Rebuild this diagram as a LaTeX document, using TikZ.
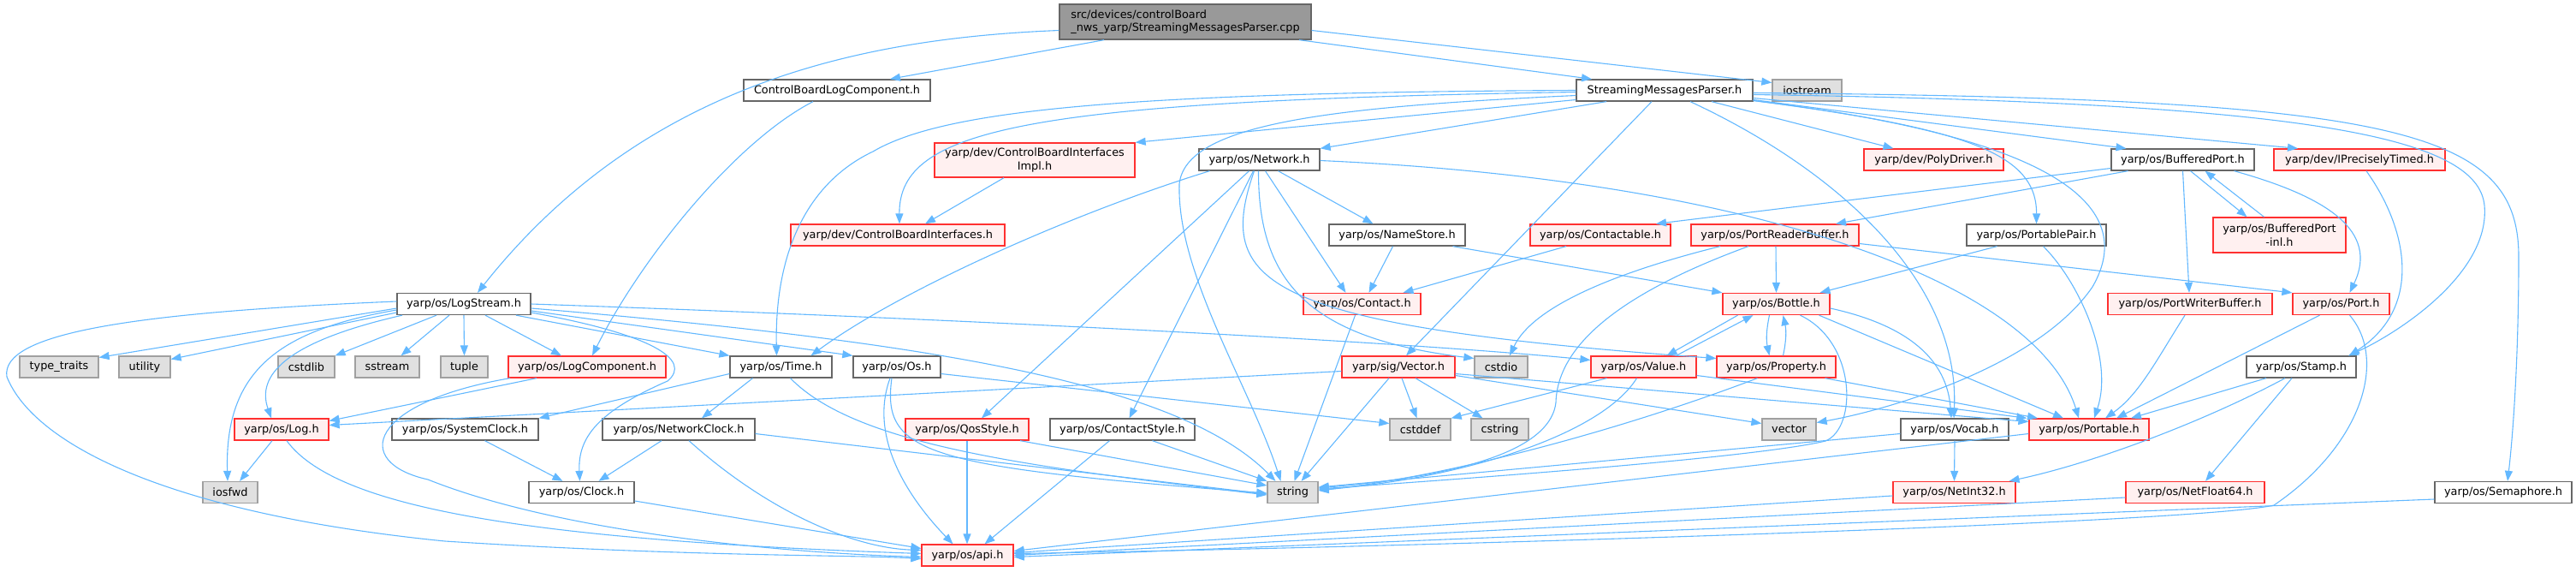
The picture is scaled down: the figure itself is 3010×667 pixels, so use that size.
\documentclass[tikz,border=0pt]{standalone}
\usepackage{fontspec}
\newfontfamily\dejavu{DejaVu Sans}
\usetikzlibrary{arrows.meta}
\definecolor{edgeblue}{HTML}{63B8FF}
\definecolor{docgray}{HTML}{666666}
\definecolor{truncred}{HTML}{FF3030}
\definecolor{truncfill}{HTML}{FFF0F0}
\definecolor{sysgray}{HTML}{A0A0A0}
\definecolor{sysfill}{HTML}{E0E0E0}
\definecolor{srcfill}{HTML}{999999}

\begin{document}
\begin{tikzpicture}[x=1pt,y=-1pt,
    every node/.style={font=\dejavu\fontsize{12.85}{15.4}\selectfont,inner sep=0pt,minimum height=25pt},
    srcfile/.style={draw=docgray,fill=srcfill,line width=1.3pt},
    hdr/.style={draw=docgray,fill=white,line width=1.3pt},
    trunc/.style={draw=truncred,fill=truncfill,line width=1.3pt},
    sys/.style={draw=sysgray,fill=sysfill,line width=1.3pt},
    inc/.style={draw=edgeblue,line width=1.1pt,-{Triangle[length=12pt,width=9pt]}},
  ]
  \useasboundingbox (0,0) rectangle (3010,667);

  % files
  \node[srcfile,minimum width=294pt,minimum height=41pt,align=left] (main) at (1385,25.5)
    {src/devices/controlBoard\\\_nws\_yarp/StreamingMessagesParser.cpp};
  \node[hdr,minimum width=218pt] (cblc) at (978,105.5) {ControlBoardLogComponent.h};
  \node[hdr,minimum width=206pt] (smph) at (1945,105.5) {StreamingMessagesParser.h};
  \node[sys,minimum width=81pt] (iostream) at (2111.5,105.5) {iostream};

  \node[trunc,minimum width=234pt,minimum height=40pt,align=center] (cbii) at (1209,187)
    {yarp/dev/ControlBoardInterfaces\\Impl.h};
  \node[hdr,minimum width=141pt] (network) at (1471.5,186.5) {yarp/os/Network.h};
  \node[trunc,minimum width=163pt] (polydriver) at (2259.5,186.5) {yarp/dev/PolyDriver.h};
  \node[hdr,minimum width=167pt] (bufport) at (2550.5,186.5) {yarp/os/BufferedPort.h};
  \node[trunc,minimum width=200pt] (iptimed) at (2757,186.5) {yarp/dev/IPreciselyTimed.h};

  \node[trunc,minimum width=250pt] (cbi) at (1049,274.5) {yarp/dev/ControlBoardInterfaces.h};
  \node[hdr,minimum width=159pt] (namestore) at (1632.5,274.5) {yarp/os/NameStore.h};
  \node[trunc,minimum width=164pt] (contactable) at (1870,274.5) {yarp/os/Contactable.h};
  \node[trunc,minimum width=196pt] (prbuf) at (2074,274.5) {yarp/os/PortReaderBuffer.h};
  \node[hdr,minimum width=163pt] (ppair) at (2379.5,274.5) {yarp/os/PortablePair.h};
  \node[trunc,minimum width=155pt,minimum height=41pt,align=center] (bpinl) at (2663.5,274.5)
    {yarp/os/BufferedPort\\-inl.h};

  \node[hdr,minimum width=156pt] (logstream) at (542,355) {yarp/os/LogStream.h};
  \node[trunc,minimum width=137pt] (contact) at (1591.5,355) {yarp/os/Contact.h};
  \node[trunc,minimum width=125pt] (bottle) at (2075.5,355) {yarp/os/Bottle.h};
  \node[trunc,minimum width=192pt] (pwbuf) at (2559,355) {yarp/os/PortWriterBuffer.h};
  \node[trunc,minimum width=113pt] (port) at (2735.5,355) {yarp/os/Port.h};

  \node[sys,minimum width=92pt] (typetraits) at (69,428.5) {type\_traits};
  \node[sys,minimum width=60pt] (utility) at (169,428.5) {utility};
  \node[sys,minimum width=66pt] (cstdlib) at (358,428.5) {cstdlib};
  \node[sys,minimum width=75pt] (sstream) at (452.5,428.5) {sstream};
  \node[sys,minimum width=55pt] (tuple) at (542.5,428.5) {tuple};
  \node[trunc,minimum width=184pt] (logcomp) at (686,428.5) {yarp/os/LogComponent.h};
  \node[hdr,minimum width=119pt] (time) at (912.5,428.5) {yarp/os/Time.h};
  \node[hdr,minimum width=102pt] (os) at (1048,428.5) {yarp/os/Os.h};
  \node[trunc,minimum width=132pt] (sigvector) at (1634,428.5) {yarp/sig/Vector.h};
  \node[sys,minimum width=62pt] (cstdio) at (1754,428.5) {cstdio};
  \node[trunc,minimum width=123pt] (value) at (1920.5,428.5) {yarp/os/Value.h};
  \node[trunc,minimum width=139pt] (property) at (2075.5,428.5) {yarp/os/Property.h};
  \node[hdr,minimum width=128pt] (stamp) at (2689,428.5) {yarp/os/Stamp.h};

  \node[trunc,minimum width=110pt] (log) at (329,501.5) {yarp/os/Log.h};
  \node[hdr,minimum width=171pt] (sysclock) at (543.5,501.5) {yarp/os/SystemClock.h};
  \node[hdr,minimum width=178pt] (netclock) at (793,501.5) {yarp/os/NetworkClock.h};
  \node[trunc,minimum width=144pt] (qos) at (1130,501.5) {yarp/os/QosStyle.h};
  \node[hdr,minimum width=169pt] (cstyle) at (1311.5,501.5) {yarp/os/ContactStyle.h};
  \node[sys,minimum width=71pt] (cstddef) at (1659.5,501.5) {cstddef};
  \node[sys,minimum width=67pt] (cstring) at (1752.5,501.5) {cstring};
  \node[sys,minimum width=63pt] (stdvector) at (2090.5,501.5) {vector};
  \node[hdr,minimum width=126pt] (vocab) at (2284,501.5) {yarp/os/Vocab.h};
  \node[trunc,minimum width=140pt] (portable) at (2441,501.5) {yarp/os/Portable.h};

  \node[sys,minimum width=64pt] (iosfwd) at (269,575) {iosfwd};
  \node[hdr,minimum width=123pt] (clock) at (679.5,575) {yarp/os/Clock.h};
  \node[sys,minimum width=59pt] (string) at (1510.5,575) {string};
  \node[trunc,minimum width=143pt] (netint) at (2283.5,575) {yarp/os/NetInt32.h};
  \node[trunc,minimum width=162pt] (netfloat) at (2565,575) {yarp/os/NetFloat64.h};
  \node[hdr,minimum width=160pt] (semaphore) at (2925,575) {yarp/os/Semaphore.h};

  \node[trunc,minimum width=107pt] (api) at (1130.5,648.5) {yarp/os/api.h};

  % includes of the source file
  \draw[inc] ([xshift=-95pt]main.south) -- ([xshift=62pt]cblc.north);
  \draw[inc] ([yshift=-10pt]main.west) .. controls (1000,45) and (750,100) .. ([xshift=16pt]logstream.north);
  \draw[inc] ([xshift=133pt]main.south) -- ([xshift=-85pt]smph.north);
  \draw[inc] ([yshift=-10pt]main.east) -- ([yshift=9pt]iostream.west);
  \draw[inc] ([xshift=-28pt]cblc.south) .. controls (860,165) and (750,300) .. ([xshift=6pt]logcomp.north);

  % StreamingMessagesParser.h
  \draw[inc] ([yshift=-11pt]smph.west) -- (cbii.north east);
  \draw[inc] ([yshift=-2pt]smph.west) .. controls (1200,118) and (1050,150) .. ([xshift=2pt]cbi.north);
  \draw[inc] (smph.west) .. controls (1300,108) and (1100,130) .. (1020,177)
    .. controls (940,215) and (905,300) .. ([xshift=-5pt]time.north);
  \draw[inc] ([yshift=-6pt]smph.west) .. controls (1550,125) and (1385,145) .. (1378,215)
    .. controls (1375,320) and (1460,450) .. ([xshift=-14pt]string.north);
  \draw[inc] ([xshift=-68pt]smph.south) -- (network.north east);
  \draw[inc] ([xshift=-15pt]smph.south) -- ([xshift=9pt]sigvector.north);
  \draw[inc] ([xshift=55pt]smph.south) -- ([xshift=-47pt]polydriver.north);
  \draw[inc] ([xshift=30pt]smph.south) .. controls (2150,200) and (2290,330) .. ([xshift=-1pt]vocab.north);
  \draw[inc] ([yshift=-11pt]smph.east) -- ([xshift=-66pt]bufport.north);
  \draw[inc] ([yshift=-9pt]smph.east) -- ([xshift=-72pt]iptimed.north);
  \draw[inc] ([yshift=-12pt]smph.east) .. controls (2300,150) and (2380,180) .. (ppair.north);
  \draw[inc] ([yshift=-12pt]smph.east) .. controls (2400,160) and (2500,240) .. (2445,335)
    .. controls (2380,430) and (2200,480) .. ([yshift=8pt]stdvector.east);
  \draw[inc] ([yshift=-5pt]smph.east) .. controls (2700,120) and (2895,160) .. (2903,240)
    .. controls (2910,320) and (2800,390) .. ([xshift=55pt]stamp.north);
  \draw[inc] ([yshift=-3pt]smph.east) .. controls (2800,115) and (2943,150) .. (2943,300)
    .. controls (2943,430) and (2935,520) .. ([xshift=5pt]semaphore.north);

  % Network.h
  \draw[inc] ([xshift=-58pt]network.south) .. controls (1250,250) and (1050,340) .. ([xshift=35pt]time.north);
  \draw[inc] ([xshift=-12pt]network.south) -- ([xshift=17pt]qos.north);
  \draw[inc] ([xshift=-7pt]network.south) -- ([xshift=8pt]cstyle.north);
  \draw[inc] ([xshift=-1pt]network.south) .. controls (1470,330) and (1530,395) .. ([yshift=10pt]cstdio.west);
  \draw[inc] ([xshift=-6pt]network.south) .. controls (1420,330) and (1470,380) .. ([yshift=10pt]property.west);
  \draw[inc] ([xshift=22pt]network.south) -- ([xshift=-28pt]namestore.north);
  \draw[inc] ([xshift=7pt]network.south) -- ([xshift=-19pt]contact.north);
  \draw[inc] ([yshift=-1pt]network.east) .. controls (2050,210) and (2380,330) .. ([xshift=-12pt]portable.north);

  % second row
  \draw[inc] ([xshift=-36pt]cbii.south) -- ([xshift=32pt]cbi.north);
  \draw[inc] ([xshift=-5pt]namestore.south) -- ([xshift=8pt]contact.north);
  \draw[inc] ([xshift=65pt]namestore.south) -- (bottle.north west);
  \draw[inc] ([xshift=-40pt]contactable.south) -- ([xshift=48pt]contact.north);
  \draw[inc] ([yshift=-10pt]bufport.west) -- ([xshift=65pt]contactable.north);
  \draw[inc] ([xshift=-64pt]bufport.south) -- ([xshift=71pt]prbuf.north);
  \draw[inc] ([xshift=9pt]bufport.south) -- ([xshift=-38pt]bpinl.north);
  \draw[inc] ([xshift=-18pt]bpinl.north) -- ([xshift=26pt]bufport.south);
  \draw[inc] (bufport.south) -- ([xshift=-1pt]pwbuf.north);
  \draw[inc] ([xshift=60pt]bufport.south) .. controls (2720,230) and (2780,270) .. ([xshift=10pt]port.north);
  \draw[inc] ([xshift=8pt]iptimed.south) .. controls (2815,270) and (2830,360) .. ([xshift=56pt]stamp.north);

  % PortReaderBuffer.h, PortablePair.h
  \draw[inc] ([xshift=1pt]prbuf.south) -- (bottle.north);
  \draw[inc] ([xshift=-64pt]prbuf.south) .. controls (1880,320) and (1790,360) .. ([xshift=10pt]cstdio.north);
  \draw[inc] ([xshift=-31pt]prbuf.south) .. controls (1900,340) and (1820,400) .. (1818,470)
    .. controls (1810,540) and (1650,560) .. ([yshift=5pt]string.east);
  \draw[inc] ([yshift=-10pt]prbuf.east) -- (port.north west);
  \draw[inc] ([xshift=-46pt]ppair.south) -- ([xshift=51pt]bottle.north);
  \draw[inc] ([xshift=8pt]ppair.south) .. controls (2430,330) and (2470,420) .. ([xshift=6pt]portable.north);

  % Contact.h, Bottle.h, Value.h, Property.h
  \draw[inc] ([xshift=-8pt]contact.south) -- ([xshift=2pt]string.north);
  \draw[inc] ([xshift=-45pt]bottle.south) -- ([xshift=27pt]value.north);
  \draw[inc] ([xshift=38pt]value.north) -- ([xshift=-27pt]bottle.south);
  \draw[inc] ([xshift=-8pt]bottle.south) to[bend right=12] ([xshift=-8pt]property.north);
  \draw[inc] ([xshift=8pt]property.north) to[bend right=12] ([xshift=8pt]bottle.south);
  \draw[inc] ([yshift=-5pt]bottle.east) .. controls (2230,380) and (2275,420) .. ([xshift=-4pt]vocab.north);
  \draw[inc] ([xshift=50pt]bottle.south) -- ([xshift=-30pt]portable.north);
  \draw[inc] ([xshift=28pt]bottle.south) .. controls (2170,400) and (2170,500) .. (2133,515)
    .. controls (2050,535) and (1700,560) .. ([yshift=4pt]string.east);
  \draw[inc] ([xshift=-8pt]value.south) .. controls (1870,510) and (1700,560) .. ([yshift=3pt]string.east);
  \draw[inc] ([xshift=-43pt]value.south) -- (cstddef.north east);
  \draw[inc] ([yshift=-10pt]value.east) -- ([xshift=-2pt]portable.north west);
  \draw[inc] ([xshift=57pt]property.south) -- ([xshift=-60pt]portable.north);
  \draw[inc] ([xshift=-22pt]property.south) .. controls (1900,500) and (1700,555) .. ([yshift=2pt]string.east);

  % yarp/sig/Vector.h
  \draw[inc] ([xshift=-11pt]sigvector.south) -- ([xshift=10pt]string.north);
  \draw[inc] ([xshift=4pt]sigvector.south) -- ([xshift=-4pt]cstddef.north);
  \draw[inc] ([xshift=20pt]sigvector.south) -- ([xshift=-20pt]cstring.north);
  \draw[inc] ([yshift=-5pt]sigvector.west) -- ([yshift=5pt]log.east);
  \draw[inc] ([yshift=-10pt]sigvector.east) -- ([yshift=7pt]stdvector.west);
  \draw[inc] ([yshift=-8pt]sigvector.east) -- ([yshift=9pt]portable.west);

  % Vocab.h, Portable.h, Stamp.h, PortWriterBuffer.h, Port.h
  \draw[inc] ([yshift=-5pt]vocab.west) -- ([yshift=6pt]string.east);
  \draw[inc] (vocab.south) -- (netint.north);
  \draw[inc] ([yshift=-5pt]portable.west) -- ([yshift=5pt]api.east);
  \draw[inc] ([xshift=-41pt]stamp.south) -- ([xshift=49pt]portable.north);
  \draw[inc] ([xshift=-19pt]stamp.south) .. controls (2580,490) and (2450,540) .. ([xshift=64pt]netint.north);
  \draw[inc] ([xshift=-11pt]stamp.south) -- ([xshift=12pt]netfloat.north);
  \draw[inc] ([xshift=-6pt]pwbuf.south) .. controls (2520,420) and (2500,460) .. ([xshift=19pt]portable.north);
  \draw[inc] ([xshift=-25pt]port.south) -- ([xshift=32pt]portable.north);
  \draw[inc] ([xshift=10pt]port.south) .. controls (2790,420) and (2760,520) .. (2657,590)
    .. controls (2560,612) and (1600,640) .. ([yshift=2pt]api.east);
  \draw[inc] ([yshift=-4pt]netint.west) -- ([yshift=3pt]api.east);
  \draw[inc] ([yshift=-6pt]netfloat.west) -- ([yshift=0pt]api.east);
  \draw[inc] ([yshift=-8pt]semaphore.west) -- ([yshift=-2pt]api.east);

  % QosStyle.h, ContactStyle.h, Os.h
  \draw[inc] (qos.south) -- ([xshift=-0.5pt]api.north);
  \draw[inc] ([xshift=62pt]qos.south) -- ([yshift=8pt]string.west);
  \draw[inc] ([xshift=-15pt]cstyle.south) -- ([xshift=20pt]api.north);
  \draw[inc] ([xshift=35pt]cstyle.south) -- (string.north west);
  \draw[inc] ([xshift=-8pt]os.south) .. controls (1015,510) and (1060,580) .. ([xshift=-17pt]api.north);
  \draw[inc] ([xshift=-6pt]os.south) .. controls (1030,530) and (1080,545) .. ([yshift=-1pt]string.west);
  \draw[inc] ([yshift=-8pt]os.east) -- ([yshift=7pt]cstddef.west);

  % Time.h and clocks
  \draw[inc] ([yshift=-8pt]time.west) -- (sysclock.north east);
  \draw[inc] ([xshift=-33pt]time.south) -- ([xshift=27pt]netclock.north);
  \draw[inc] ([xshift=11pt]time.south) .. controls (1000,520) and (1200,545) .. ([yshift=-3pt]string.west);
  \draw[inc] ([xshift=23pt]sysclock.south) -- ([xshift=-22pt]clock.north);
  \draw[inc] ([xshift=-20pt]netclock.south) -- ([xshift=20pt]clock.north);
  \draw[inc] ([xshift=12pt]netclock.south) .. controls (900,600) and (1000,640) .. ([yshift=6pt]api.west);
  \draw[inc] ([yshift=-5pt]netclock.east) -- ([yshift=-2pt]string.west);
  \draw[inc] ([yshift=-10pt]clock.east) -- ([yshift=8pt]api.west);

  % Log.h, LogComponent.h
  \draw[inc] ([xshift=-11pt]log.south) -- ([xshift=11pt]iosfwd.north);
  \draw[inc] ([xshift=6pt]log.south) .. controls (390,590) and (600,630) .. ([yshift=2pt]api.west);
  \draw[inc] ([xshift=-59pt]logcomp.south) -- ([yshift=10pt]log.east);
  \draw[inc] ([xshift=-90pt]logcomp.south) .. controls (430,470) and (410,540) .. (500,560)
    .. controls (650,620) and (900,645) .. ([yshift=-2pt]api.west);

  % LogStream.h
  \draw[inc] ([yshift=-5pt]logstream.west) -- ([yshift=11pt]typetraits.east);
  \draw[inc] ([yshift=-10pt]logstream.west) -- ([yshift=9pt]utility.east);
  \draw[inc] ([xshift=-32pt]logstream.south) -- (cstdlib.north east);
  \draw[inc] ([xshift=-17pt]logstream.south) -- ([xshift=16pt]sstream.north);
  \draw[inc] (logstream.south) -- (tuple.north);
  \draw[inc] ([xshift=25pt]logstream.south) -- ([xshift=-30pt]logcomp.north);
  \draw[inc] ([xshift=61pt]logstream.south) -- (time.north west);
  \draw[inc] ([yshift=-8pt]logstream.east) -- (os.north west);
  \draw[inc] ([yshift=-7pt]logstream.west) .. controls (330,385) and (262,430) .. ([xshift=-3pt]iosfwd.north);
  \draw[inc] ([xshift=-72pt]logstream.south) .. controls (330,400) and (300,440) .. ([xshift=-12pt]log.north);
  \draw[inc] ([yshift=3pt]logstream.west) .. controls (150,365) and (0,390) .. (8,440)
    .. controls (40,520) and (200,600) .. (520,632)
    .. controls (800,650) and (1000,648) .. ([yshift=-4pt]api.west);
  \draw[inc] ([yshift=-10pt]logstream.east) .. controls (760,390) and (810,420) .. (780,445)
    .. controls (700,480) and (675,510) .. ([xshift=-2pt]clock.north);
  \draw[inc] ([yshift=-5pt]logstream.east) .. controls (1100,400) and (1380,450) .. ([xshift=-20pt]string.north);
  \draw[inc] (logstream.east) .. controls (1000,368) and (1600,395) .. ([yshift=8pt]value.west);
\end{tikzpicture}
\end{document}
